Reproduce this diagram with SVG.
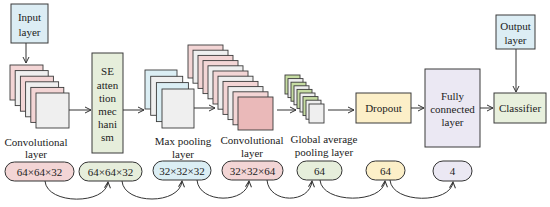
<svg xmlns="http://www.w3.org/2000/svg" width="550" height="207" viewBox="0 0 550 207">
<style>
text{font-family:"Liberation Serif","Times New Roman",serif;font-size:11px;fill:#222;text-anchor:middle}
.box{stroke:#3a3a3a;stroke-width:1}
.sh{stroke:#3a3a3a;stroke-width:0.9}
.pk{fill:#f3d5d5}
.gr{fill:#efefef}
.bl{fill:#dbeef4}
.gn{fill:#c6dca2}
.ln{fill:none;stroke:#333;stroke-width:1}
.pill{stroke:#333;stroke-width:1}
</style>
<defs>
<marker id="ah" viewBox="0 0 8 8" refX="7" refY="4" markerWidth="8" markerHeight="8" markerUnits="userSpaceOnUse" orient="auto">
<path d="M1,1 L7,4 L1,7" fill="none" stroke="#333" stroke-width="1"/>
</marker>
</defs>
<g id="input">
<rect class="box" x="11" y="4" width="37" height="39" fill="#dcedf4"/>
<text x="29.5" y="21">Input</text>
<text x="29.5" y="36">layer</text>
</g>
<g id="conv1">
<rect class="sh pk" x="10" y="65" width="33" height="35"/>
<rect class="sh gr" x="15.2" y="70.6" width="33" height="35"/>
<rect class="sh pk" x="20.4" y="76.2" width="33" height="35"/>
<rect class="sh gr" x="25.6" y="81.8" width="33" height="35"/>
<rect class="sh pk" x="30.8" y="87.4" width="33" height="35"/>
<rect class="sh gr" x="36" y="93" width="33" height="35"/>
<text x="36" y="146">Convolutional</text>
<text x="36" y="158">layer</text>
</g>
<g id="se">
<rect class="box" x="92" y="53" width="31" height="100" fill="#e6eedb"/>
<text x="107.5" y="75">SE</text>
<text x="107.5" y="89">atten</text>
<text x="107.5" y="102">tion</text>
<text x="107.5" y="115">mec</text>
<text x="107.5" y="128">hani</text>
<text x="107.5" y="141">sm</text>
</g>
<g id="maxpool">
<rect class="sh bl" x="145" y="70" width="32" height="39"/>
<rect class="sh gr" x="150.7" y="76.3" width="32" height="39"/>
<rect class="sh bl" x="156.4" y="82.6" width="32" height="39"/>
<rect class="sh gr" x="162" y="89" width="32" height="39"/>
<text x="183" y="145">Max pooling</text>
<text x="183" y="158">layer</text>
</g>
<g id="conv2">
<rect class="sh pk" x="188" y="45" width="35" height="33"/>
<rect class="sh gr" x="193" y="50.2" width="35" height="33"/>
<rect class="sh pk" x="198" y="55.4" width="35" height="33"/>
<rect class="sh pk" x="203" y="60.6" width="35" height="33"/>
<rect class="sh gr" x="208" y="65.8" width="35" height="33"/>
<rect class="sh pk" x="213" y="71" width="35" height="33"/>
<rect class="sh gr" x="218" y="76.2" width="35" height="33"/>
<rect class="sh pk" x="223" y="81.4" width="35" height="33"/>
<rect class="sh gr" x="228" y="86.6" width="35" height="33"/>
<rect class="sh pk" x="233" y="91.8" width="35" height="33"/>
<rect class="sh" x="238" y="97" width="35" height="33" fill="#eab9b9"/>
<text x="252" y="144">Convolutional</text>
<text x="252" y="157">layer</text>
</g>
<g id="gap">
<rect class="sh gn" x="285" y="75" width="15" height="19"/>
<rect class="sh gr" x="288" y="78.6" width="15" height="19"/>
<rect class="sh gn" x="291" y="82.2" width="15" height="19"/>
<rect class="sh gr" x="294" y="85.8" width="15" height="19"/>
<rect class="sh gn" x="297" y="89.4" width="15" height="19"/>
<rect class="sh gr" x="300" y="93" width="15" height="19"/>
<rect class="sh gn" x="303" y="96.6" width="15" height="19"/>
<rect class="sh gr" x="306" y="100.2" width="15" height="19"/>
<rect class="sh gr" x="309" y="104" width="15" height="19"/>
<text x="324" y="143">Global average</text>
<text x="324" y="156">pooling layer</text>
</g>
<g id="dropout">
<rect class="box" x="356" y="93" width="55" height="30" fill="#fcefc8"/>
<text x="383.5" y="112">Dropout</text>
</g>
<g id="fc">
<rect class="box" x="425" y="69" width="55" height="78" fill="#ebe8f3"/>
<text x="452.5" y="100">Fully</text>
<text x="452.5" y="113">connected</text>
<text x="452.5" y="126">layer</text>
</g>
<g id="classifier">
<rect class="box" x="494" y="93" width="52" height="30" fill="#e8f0dd"/>
<text x="520" y="112">Classifier</text>
</g>
<g id="output">
<rect class="box" x="496" y="15" width="39" height="34" fill="#dcedf4"/>
<text x="515.5" y="30">Output</text>
<text x="515.5" y="44">layer</text>
</g>
<g id="pill1"><rect class="pill" x="5" y="162" width="69" height="19" rx="9.5" fill="#f3d5d5"/><text x="39.5" y="175.5">64×64×32</text></g>
<g id="pill2"><rect class="pill" x="79" y="162" width="63" height="19" rx="9.5" fill="#e6eedb"/><text x="110.5" y="175.5">64×64×32</text></g>
<g id="pill3"><rect class="pill" x="153" y="161" width="58" height="19" rx="9.5" fill="#dbeef4"/><text x="182" y="174.5">32×32×32</text></g>
<g id="pill4"><rect class="pill" x="222" y="161" width="61" height="19" rx="9.5" fill="#f3d5d5"/><text x="252.5" y="174.5">32×32×64</text></g>
<g id="pill5"><rect class="pill" x="297" y="161" width="45" height="19" rx="9.5" fill="#e6eedb"/><text x="319.5" y="174.5">64</text></g>
<g id="pill6"><rect class="pill" x="366" y="161" width="39" height="19" rx="9.5" fill="#fcefc8"/><text x="385.5" y="174.5">64</text></g>
<g id="pill7"><rect class="pill" x="433" y="161" width="39" height="20" rx="10" fill="#ebe8f3"/><text x="452.5" y="175">4</text></g>
<g id="connectors">
<path class="ln" d="M26,43 V63" marker-end="url(#ah)"/>
<path class="ln" d="M69,110 H91" marker-end="url(#ah)"/>
<path class="ln" d="M123,110 H144" marker-end="url(#ah)"/>
<path class="ln" d="M194,108 H215" marker-end="url(#ah)"/>
<path class="ln" d="M277,110 H296" marker-end="url(#ah)"/>
<path class="ln" d="M328,110 H354" marker-end="url(#ah)"/>
<path class="ln" d="M411,108 H424" marker-end="url(#ah)"/>
<path class="ln" d="M480,108 H493" marker-end="url(#ah)"/>
<path class="ln" d="M516,49 V92" marker-end="url(#ah)"/>
<path class="ln" d="M45,181 C47,205 106,205 108,182" marker-end="url(#ah)"/>
<path class="ln" d="M122,181 C124,205 180,205 182,181" marker-end="url(#ah)"/>
<path class="ln" d="M197,180 C199,204 247,204 249,181" marker-end="url(#ah)"/>
<path class="ln" d="M267,180 C269,204 310,204 312,181" marker-end="url(#ah)"/>
<path class="ln" d="M320,180 C322,204 383,204 385,181" marker-end="url(#ah)"/>
<path class="ln" d="M390,180 C392,204 451,204 453,182" marker-end="url(#ah)"/>
</g>
</svg>
